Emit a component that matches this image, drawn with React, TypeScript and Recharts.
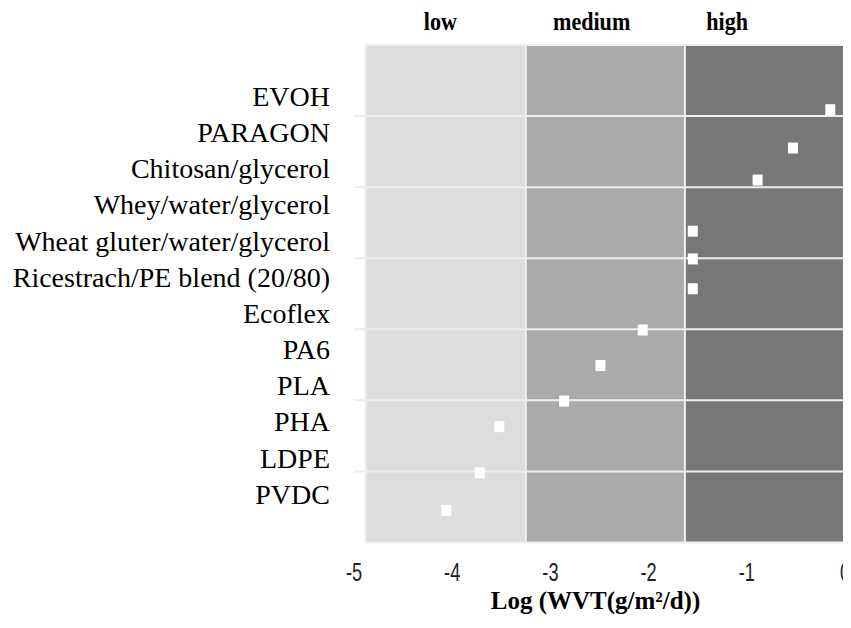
import React from 'react';
import {
  ScatterChart,
  Scatter,
  XAxis,
  YAxis,
  ReferenceArea,
  ReferenceLine,
  Label,
} from 'recharts';

// materials, top to bottom as listed on the left
const materials = [
  'EVOH',
  'PARAGON',
  'Chitosan/glycerol',
  'Whey/water/glycerol',
  'Wheat gluter/water/glycerol',
  'Ricestrach/PE blend (20/80)',
  'Ecoflex',
  'PA6',
  'PLA',
  'PHA',
  'LDPE',
  'PVDC',
];

// Log(WVT)
const logWvt = [-0.15, -0.53, -0.89, -1.55, -1.55, -1.55, -2.06, -2.49, -2.86, -3.52, -3.72, -4.06];
// vertical value of each marker (0..7 scale)
const rowY = [6.09, 5.55, 5.1, 4.38, 3.99, 3.57, 2.99, 2.49, 1.99, 1.63, 0.98, 0.45];

const xTicks = [-5, -4, -3, -2, -1, 0];
const gridRows = [1, 2, 3, 4, 5, 6];

const bandNames = ['low', 'medium', 'high'];
const bandFrom = [-4.88, -3.25, -1.63];
const bandTo = [-3.25, -1.63, 0];
const bandLabelTicks = [-4.12, -2.58, -1.2];

const BAND_FILLS = ['#dddddd', '#aaaaaa', '#777777'];
const SERIF = "'Liberation Serif', 'Times New Roman', serif";
const SANS = "'Liberation Sans', Arial, sans-serif";

const data = materials.map((name, i) => ({ name, x: logWvt[i], y: rowY[i] }));

// labels on the left are evenly spaced, independent of the markers
const labelTicks = materials.map((_, i) => 6.27 - 0.509 * i);

const Square = (props: any) => {
  const { cx, cy } = props;
  return <rect x={cx - 5} y={cy - 5.5} width={10} height={11} fill="#ffffff" />;
};

const BandTick = ({ x, payload }: any) => {
  const i = bandLabelTicks.indexOf(payload.value);
  return (
    <g transform={`translate(${x},22) scale(0.85,1)`}>
      <text x={0} y={0} textAnchor="middle" fontFamily={SERIF} fontWeight="bold" fontSize={26} fill="#000">
        {bandNames[i]}
      </text>
    </g>
  );
};

const ValueTick = ({ x, payload }: any) => (
  <g transform={`translate(${x},573) scale(0.7,1)`}>
    <text x={0} y={0} textAnchor="middle" fontFamily={SANS} fontSize={26} fill="#222">
      {payload.value}
    </text>
  </g>
);

export default function App() {
  return (
    <div style={{ width: 843, height: 612 }}>
      <ScatterChart width={843} height={612} margin={{ top: 0, right: 6, bottom: 0, left: 0 }}>
        <XAxis
          xAxisId="band"
          orientation="top"
          type="number"
          dataKey="x"
          domain={[-5, 0]}
          ticks={bandLabelTicks}
          interval={0}
          height={37}
          axisLine={false}
          tickLine={false}
          tick={BandTick}
        />
        <XAxis
          xAxisId="main"
          type="number"
          dataKey="x"
          domain={[-5, 0]}
          ticks={xTicks}
          interval={0}
          height={77.5}
          axisLine={false}
          tickLine={false}
          tick={ValueTick}
        >
          <Label
            value="Log (WVT(g/m²/d))"
            position="insideBottom"
            offset={11}
            dx={-4}
            fontFamily={SERIF}
            fontWeight="bold"
            fontSize={25}
            fill="#000"
          />
        </XAxis>
        <YAxis
          type="number"
          dataKey="y"
          domain={[0, 7]}
          ticks={labelTicks}
          interval={0}
          width={346}
          axisLine={false}
          tickLine={false}
          tick={({ y, index }: any) => (
            <text x={322} y={y} dy={9} textAnchor="end" fontFamily={SERIF} fontSize={28} fill="#000">
              {materials[index]}
            </text>
          )}
        />

        {bandNames.map((b, i) => (
          <ReferenceArea
            key={b}
            xAxisId="main"
            x1={bandFrom[i]}
            x2={bandTo[i]}
            y1={0}
            y2={7}
            fill={BAND_FILLS[i]}
            fillOpacity={1}
            stroke="#eeeeee"
            strokeWidth={2}
          />
        ))}
        {gridRows.map((r) => (
          <ReferenceLine key={r} xAxisId="main" y={r} stroke="#eeeeee" strokeWidth={2} />
        ))}

        {/* the top axis needs a series of its own to get ticks; this one draws nothing */}
        <Scatter xAxisId="band" data={data} shape={() => <g />} isAnimationActive={false} />
        <Scatter xAxisId="main" data={data} shape={Square} isAnimationActive={false} />
      </ScatterChart>
    </div>
  );
}
